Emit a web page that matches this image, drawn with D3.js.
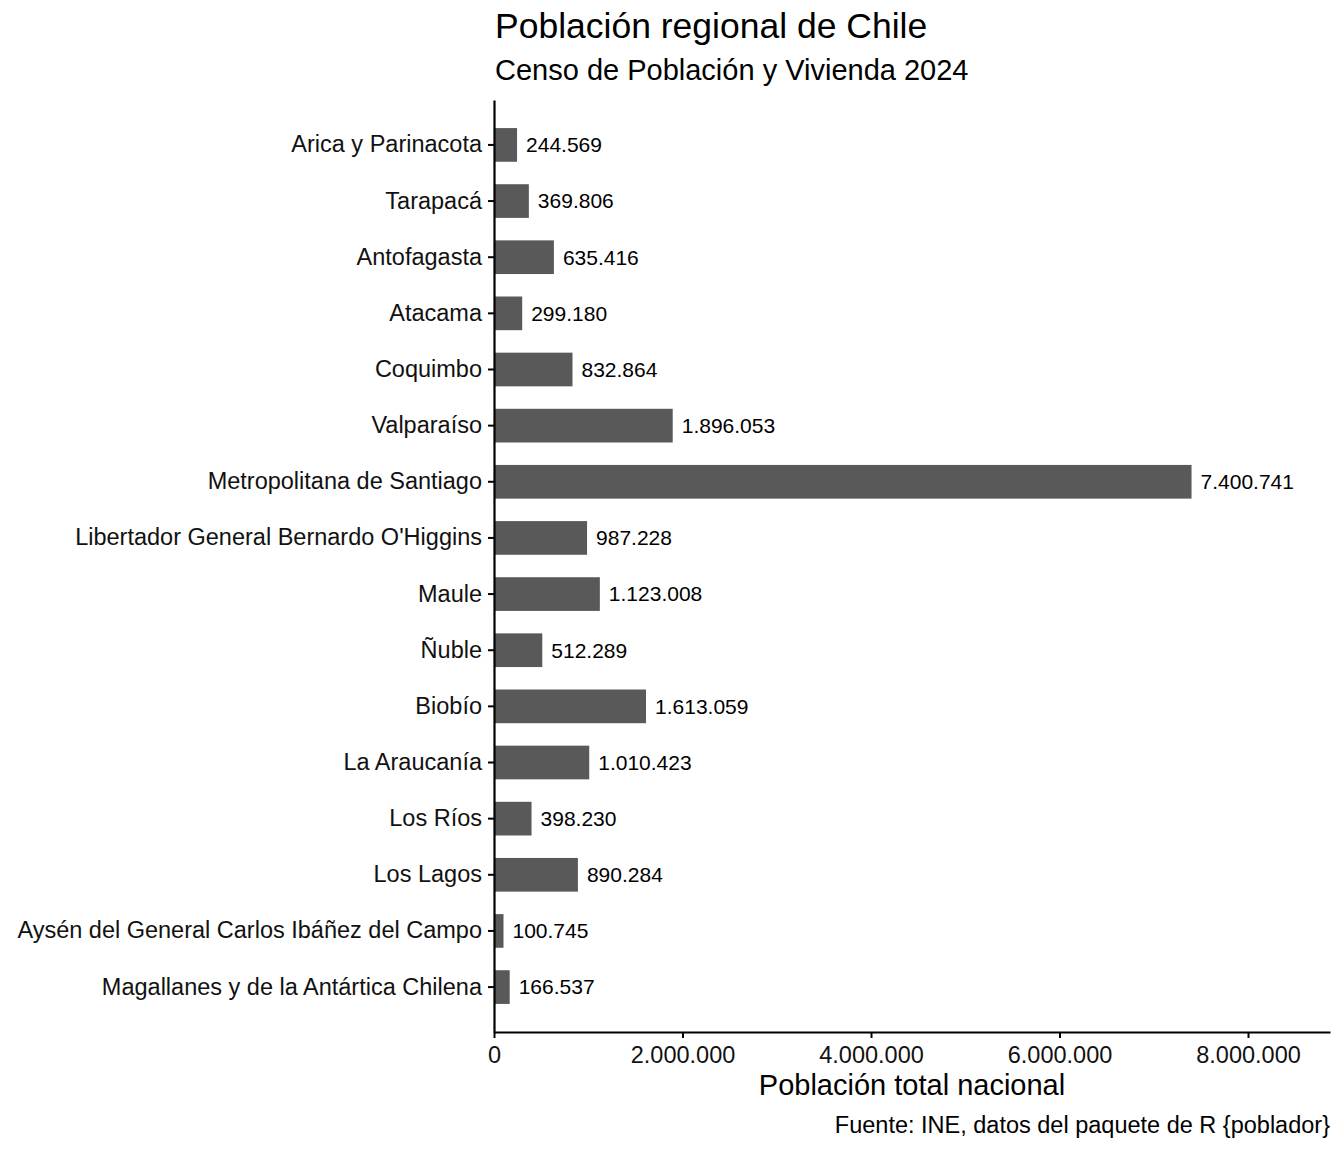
<html>
<head>
<script src="https://d3js.org/d3.v7.min.js"></script>
<style>
body { margin: 0; background: #fff; }
svg { font-family: "Liberation Sans", Arial, sans-serif; }
</style>
</head>
<body>
<div id="root"></div>
<script>
var regiones = ["Arica y Parinacota", "Tarapacá", "Antofagasta", "Atacama", "Coquimbo", "Valparaíso",
  "Metropolitana de Santiago", "Libertador General Bernardo O'Higgins", "Maule", "Ñuble", "Biobío",
  "La Araucanía", "Los Ríos", "Los Lagos", "Aysén del General Carlos Ibáñez del Campo",
  "Magallanes y de la Antártica Chilena"];
var poblacion = [244569, 369806, 635416, 299180, 832864, 1896053, 7400741, 987228, 1123008,
  512289, 1613059, 1010423, 398230, 890284, 100745, 166537];
var xTicks = [0, 2000000, 4000000, 6000000, 8000000];

var W = 1344, H = 1152;
var pLeft = 494, pRight = 1330, pTop = 100, pBottom = 1032;

var loc = d3.formatLocale({decimal: ",", thousands: ".", grouping: [3], currency: ["$", ""]});
var fmt = loc.format(",d");

var svg = d3.select("#root").append("svg").attr("width", W).attr("height", H);

var x = d3.scaleLinear().domain([0, 8870000]).range([pLeft, pRight]);
var y = d3.scaleBand().domain(regiones).range([pTop, pBottom]).paddingInner(0.4).paddingOuter(0.5);

// barras
svg.append("g").selectAll("rect").data(regiones).enter().append("rect")
  .attr("x", x(0))
  .attr("y", d => y(d))
  .attr("width", (d, i) => x(poblacion[i]) - x(0))
  .attr("height", y.bandwidth())
  .attr("fill", "#595959");

// etiquetas de valor
svg.append("g").selectAll("text").data(regiones).enter().append("text")
  .attr("x", (d, i) => x(poblacion[i]) + 9)
  .attr("y", d => y(d) + y.bandwidth() / 2)
  .attr("dy", "0.35em")
  .style("font-size", "21px")
  .text((d, i) => fmt(poblacion[i]));

// ejes
var xAxis = d3.axisBottom(x).tickValues(xTicks).tickFormat(fmt).tickSize(6).tickSizeOuter(0);
var gx = svg.append("g").attr("transform", `translate(0,${pBottom})`).call(xAxis);
gx.select(".domain").attr("stroke-width", 2.2);
gx.selectAll(".tick line").attr("stroke-width", 2);
gx.selectAll(".tick text").style("font-size", "23.5px").attr("fill", "#111").attr("dy", "0.95em");

var yAxis = d3.axisLeft(y).tickSize(6).tickSizeOuter(0);
var gy = svg.append("g").attr("transform", `translate(${pLeft},0)`).call(yAxis);
gy.select(".domain").attr("stroke-width", 2.2);
gy.selectAll(".tick line").attr("stroke-width", 2);
gy.selectAll(".tick text").style("font-size", "23.5px").attr("fill", "#111").attr("x", -12);

// textos
svg.append("text").attr("x", pLeft + 1).attr("y", 38).style("font-size", "35.5px").text("Población regional de Chile");
svg.append("text").attr("x", pLeft + 1).attr("y", 80).style("font-size", "29px").text("Censo de Población y Vivienda 2024");
svg.append("text").attr("x", (pLeft + pRight) / 2).attr("y", 1095).attr("text-anchor", "middle")
  .style("font-size", "29px").text("Población total nacional");
svg.append("text").attr("x", pRight).attr("y", 1133).attr("text-anchor", "end")
  .style("font-size", "23.5px").text("Fuente: INE, datos del paquete de R {poblador}");
</script>
</body>
</html>
